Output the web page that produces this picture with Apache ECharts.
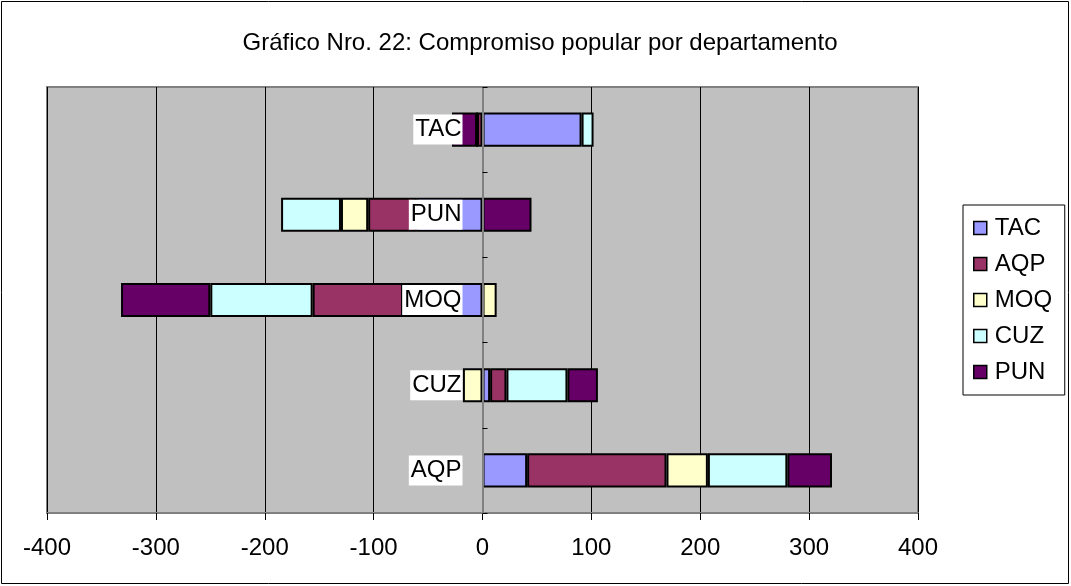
<!DOCTYPE html>
<html>
<head>
<meta charset="utf-8">
<script src="https://cdn.jsdelivr.net/npm/echarts@6/dist/echarts.min.js"></script>
<style>
html,body{margin:0;padding:0;background:#fff;}
#chart{width:1071px;height:586px;}
</style>
</head>
<body>
<div id="chart"></div>
<script>
var titleText = 'Gráfico Nro. 22: Compromiso popular por departamento';
var categories = ['AQP', 'CUZ', 'MOQ', 'PUN', 'TAC'];
var seriesNames = ['TAC', 'AQP', 'MOQ', 'CUZ', 'PUN'];
var seriesColors = ['#9999FF', '#993366', '#FFFFCC', '#CCFFFF', '#660066'];
// values per department row (AQP, CUZ, MOQ, PUN, TAC)
var valTAC = [41, 7, -73, -61, 91];
var valAQP = [128, 15, -83, -44, -5];
var valMOQ = [38, -18, 13, -25, 0];
var valCUZ = [73, 56, -94, -55, 11];
var valPUN = [41, 28, -82, 45, -23];
var xTicks = [-400, -300, -200, -100, 0, 100, 200, 300, 400];

var allVals = [valTAC, valAQP, valMOQ, valCUZ, valPUN];
var font = '"Liberation Sans", Arial, sans-serif';
var gridLeft = 47;

var series = seriesNames.map(function (name, i) {
  return {
    name: name,
    type: 'bar',
    stack: 'total',
    data: allVals[i],
    barWidth: '40%',
    itemStyle: { color: seriesColors[i], borderColor: '#000', borderWidth: 2 },
    emphasis: { disabled: true }
  };
});

var chart = echarts.init(document.getElementById('chart'), null, { renderer: 'canvas' });
var option = {
  animation: false,
  backgroundColor: '#fff',
  title: {
    text: titleText,
    left: 535,
    textAlign: 'center',
    top: 26,
    textStyle: { fontFamily: font, fontSize: 24, fontWeight: 'normal', color: '#000' }
  },
  legend: {
    orient: 'vertical',
    left: 963,
    top: 205,
    padding: [10, 8, 10, 10],
    itemGap: 10,
    itemWidth: 13,
    itemHeight: 13,
    icon: 'rect',
    backgroundColor: '#fff',
    borderColor: '#000',
    borderWidth: 1,
    data: seriesNames,
    itemStyle: { borderColor: '#000', borderWidth: 1.5 },
    textStyle: { fontFamily: font, fontSize: 24, color: '#000', lineHeight: 26, width: 62, padding: [0, 0, 0, 3] }
  },
  grid: {
    left: gridLeft, right: 153, top: 87, bottom: 73,
    outerBoundsMode: 'none',
    containLabel: false,
    show: true,
    backgroundColor: '#C0C0C0',
    borderColor: '#808080',
    borderWidth: 2
  },
  xAxis: {
    type: 'value',
    min: -400, max: 400, interval: 100,
    axisLine: { show: true, onZero: false, lineStyle: { color: '#808080', width: 2 } },
    axisTick: { show: true, length: 7, lineStyle: { color: '#000' } },
    axisLabel: {
      fontFamily: font, fontSize: 24, color: '#000', margin: 23,
      formatter: function (v) { return xTicks.indexOf(v) >= 0 ? String(v) : ''; }
    },
    splitLine: { show: true, lineStyle: { color: '#000', width: 1 } }
  },
  yAxis: {
    type: 'category',
    data: categories,
    z: 10,
    offset: 0,
    axisLine: { show: true, onZero: false, lineStyle: { color: '#808080', width: 2 } },
    axisTick: { show: true, inside: true, length: 5, lineStyle: { color: '#000' } },
    axisLabel: {
      fontFamily: font, fontSize: 24, color: '#000', margin: 20,
      backgroundColor: '#fff', padding: [3, 1, 3, 2]
    },
    splitLine: { show: false }
  },
  graphic: [{
    type: 'rect',
    shape: { x: 1.5, y: 1.5, width: 1067, height: 582 },
    style: { fill: 'none', stroke: '#000', lineWidth: 1 },
    silent: true
  }],
  series: series
};
chart.setOption(option);
// move the category axis (line, ticks, labels) onto the x = 0 position
var zeroX = chart.convertToPixel({ xAxisIndex: 0 }, 0);
chart.setOption({ yAxis: { offset: -(zeroX - gridLeft) } });
</script>
</body>
</html>
